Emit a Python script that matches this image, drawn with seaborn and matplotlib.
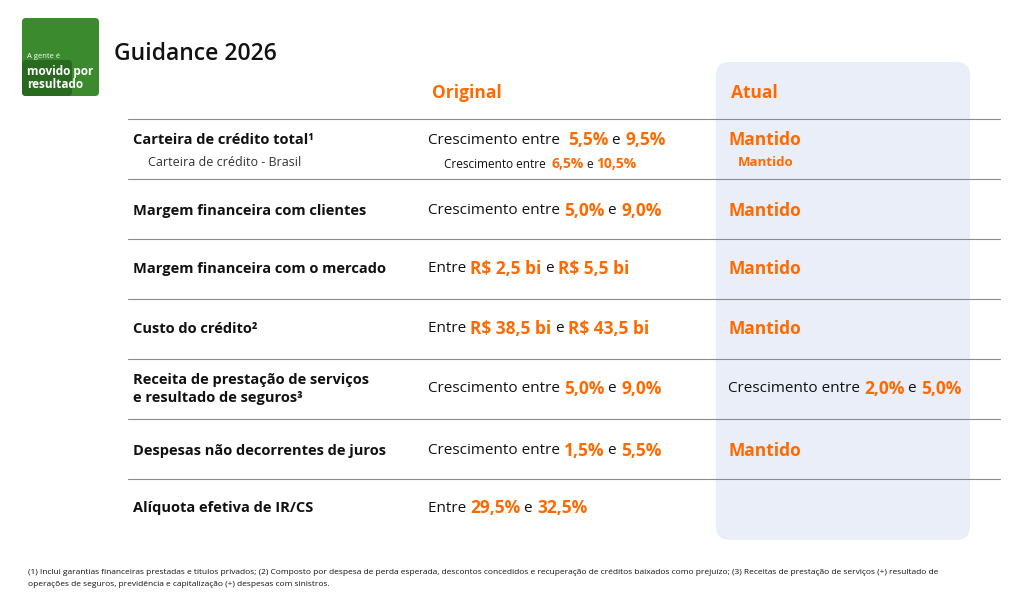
import matplotlib.pyplot as plt
import seaborn as sns
from matplotlib.patches import FancyBboxPatch

sns.set_theme(style="white")
plt.rcParams['font.family'] = ['Open Sans', 'DejaVu Sans']

ORANGE = '#FF6A00'
BLACK = '#111111'

# each row: label lines, original segments, atual segments, y centre
rows = [
    (["Carteira de crédito total¹"], [("Crescimento entre  ", BLACK), ("5,5%", ORANGE), (" e ", BLACK), ("9,5%", ORANGE)],
     [("Mantido", ORANGE)], 140),
    (["Margem financeira com clientes"], [("Crescimento entre ", BLACK), ("5,0%", ORANGE), (" e ", BLACK), ("9,0%", ORANGE)],
     [("Mantido", ORANGE)], 211),
    (["Margem financeira com o mercado"], [("Entre ", BLACK), ("R$ 2,5 bi", ORANGE), (" e ", BLACK), ("R$ 5,5 bi", ORANGE)],
     [("Mantido", ORANGE)], 269),
    (["Custo do crédito²"], [("Entre ", BLACK), ("R$ 38,5 bi", ORANGE), (" e ", BLACK), ("R$ 43,5 bi", ORANGE)],
     [("Mantido", ORANGE)], 329),
    (["Receita de prestação de serviços", "e resultado de seguros³"],
     [("Crescimento entre ", BLACK), ("5,0%", ORANGE), (" e ", BLACK), ("9,0%", ORANGE)],
     [("Crescimento entre ", BLACK), ("2,0%", ORANGE), (" e ", BLACK), ("5,0%", ORANGE)], 389),
    (["Despesas não decorrentes de juros"], [("Crescimento entre ", BLACK), ("1,5%", ORANGE), (" e ", BLACK), ("5,5%", ORANGE)],
     [("Mantido", ORANGE)], 451),
    (["Alíquota efetiva de IR/CS"], [("Entre ", BLACK), ("29,5%", ORANGE), (" e ", BLACK), ("32,5%", ORANGE)],
     [], 508),
]
separators = [119, 179, 239, 299, 359, 419, 479]

fig = plt.figure(figsize=(10.24, 5.94), dpi=100)
ax = fig.add_axes([0, 0, 1, 1])
ax.set_xlim(0, 1024)
ax.set_ylim(594, 0)
ax.axis('off')
renderer = fig.canvas.get_renderer()


def segments(x, y, parts, size):
    for txt, col in parts:
        weight = 'bold' if col == ORANGE else 'normal'
        fs = size + 1.5 if col == ORANGE else size
        t = ax.text(x, y, txt, color=col, fontsize=fs, fontweight=weight, va='center', ha='left')
        x += t.get_window_extent(renderer).width


# logo and title
ax.add_patch(FancyBboxPatch((22, 18), 77, 78, boxstyle="round,pad=0,rounding_size=4", fc='#3C8A2E', ec='none'))
ax.add_patch(FancyBboxPatch((22, 60), 50, 36, boxstyle="round,pad=0,rounding_size=4", fc='#2A6A20', ec='none'))
ax.text(27, 57, "A gente é", color='white', fontsize=5.5, va='center')
ax.text(27, 71, "movido por", color='white', fontsize=8.5, fontweight='bold', va='center')
ax.text(27, 84, "resultado", color='white', fontsize=8.5, fontweight='bold', va='center')
ax.text(114, 54, "Guidance 2026", color=BLACK, fontsize=16.5, fontweight='semibold', va='center')

# highlighted column
ax.add_patch(FancyBboxPatch((716, 62), 254, 478, boxstyle="round,pad=0,rounding_size=14", fc='#E9EEF8', ec='none'))
ax.text(432, 93, "Original", color=ORANGE, fontsize=12.5, fontweight='bold', va='center')
ax.text(731, 93, "Atual", color=ORANGE, fontsize=12.5, fontweight='bold', va='center')

for y in separators:
    ax.plot([128, 1000], [y, y], color='#8C8C8C', lw=0.8)

for labels, orig, atual, y in rows:
    if len(labels) == 1:
        ax.text(133, y, labels[0], color=BLACK, fontsize=10.5, fontweight='bold', va='center')
    else:
        ax.text(133, y - 9, labels[0], color=BLACK, fontsize=10.5, fontweight='bold', va='center')
        ax.text(133, y + 9, labels[1], color=BLACK, fontsize=10.5, fontweight='bold', va='center')
    segments(428, y, orig, 11)
    if atual:
        segments(728, y, atual, 11)

# sub row of carteira
ax.text(148, 162, "Carteira de crédito - Brasil", color='#333333', fontsize=9, va='center')
segments(444, 164, [("Crescimento entre  ", BLACK), ("6,5%", ORANGE), (" e ", BLACK), ("10,5%", ORANGE)], 8.5)
ax.text(738, 162, "Mantido", color=ORANGE, fontsize=9.5, fontweight='bold', va='center')

ax.text(28, 573, "(1) Inclui garantias financeiras prestadas e títulos privados; (2) Composto por despesa de perda esperada, descontos concedidos e "
        "recuperação de créditos baixados como prejuízo; (3) Receitas de prestação de serviços (+) resultado de",
        fontsize=6, color=BLACK, va='center')
ax.text(28, 585, "operações de seguros, previdência e capitalização (+) despesas com sinistros.", fontsize=6, color=BLACK, va='center')

fig.savefig("out.png", dpi=100)
